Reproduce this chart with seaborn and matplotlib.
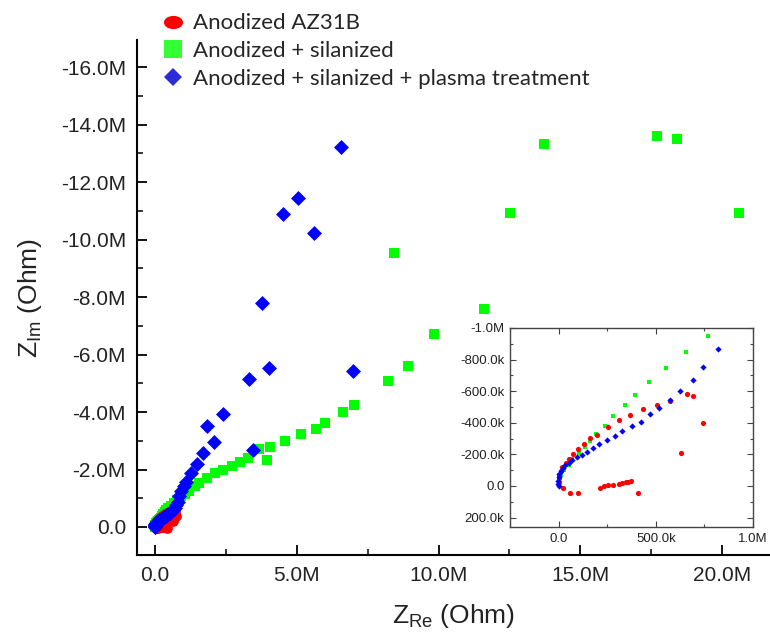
import numpy as np
import matplotlib
matplotlib.use("Agg")
import matplotlib.pyplot as plt
import seaborn as sns
from matplotlib.lines import Line2D
from matplotlib.markers import MarkerStyle
from matplotlib.transforms import Affine2D
from matplotlib.ticker import FuncFormatter, MultipleLocator


# ─────────────────────────────────────────────
# Data (Nyquist plot, Z_im stored with its sign: negative = capacitive)
# ─────────────────────────────────────────────

# Anodized AZ31B (all points < 1 MOhm, in kOhm)
red_re_k = [0, 1, 4, 10, 20, 36, 55, 76, 101, 131, 161, 196, 256, 309, 368,
            433, 504, 574, 660, 692, 744, 632,
            24, 57, 100, 211, 234, 256, 280, 311, 328, 345, 359, 371, 406]
red_im_k = [-26, -49, -72, -95, -118, -146, -173, -200, -234, -268, -302, -323,
            -376, -416, -449, -485, -511, -536, -580, -572, -397, -207,
            11, 42, 42, 11, -2, -6, -6, -11, -17, -23, -27, -32, 42]

# Anodized + silanized (low-frequency part in kOhm, rest in MOhm)
green_re_k = [1, 4, 14, 27, 52, 70, 105, 136, 160, 194, 237, 280, 339, 392,
              466, 555, 655, 766]
green_im_k = [-8, -38, -70, -101, -133, -169, -207, -249, -285, -329, -380,
              -441, -511, -578, -656, -747, -850, -951]
green_re_M = [0.9, 1.05, 1.2, 1.4, 1.56, 1.82, 2.12, 2.41, 2.70, 3.0, 3.29,
              3.68, 3.94, 4.06, 4.59, 5.14, 5.68, 6.0, 6.64, 7.03, 8.22, 8.92,
              9.84, 11.6, 8.43, 12.52, 13.72, 17.71, 18.41, 20.6]
green_im_M = [-1.07, -1.16, -1.25, -1.42, -1.52, -1.69, -1.87, -1.98, -2.12,
              -2.27, -2.39, -2.70, -2.33, -2.79, -2.99, -3.22, -3.40, -3.63,
              -4.01, -4.24, -5.08, -5.6, -6.71, -7.58, -9.53, -10.92, -13.32,
              -13.60, -13.50, -10.92]

# Anodized + silanized + plasma treatment
blue_re_k = [1, -1, -1, 0, 4, 10, 21, 34, 52, 71, 93, 119, 148, 177, 210, 249,
             289, 328, 375, 424, 471, 517, 574, 625, 689, 741, 821]
blue_im_k = [0, -13, -32, -55, -76, -97, -116, -133, -148, -165, -181, -198,
             -217, -240, -266, -293, -318, -350, -378, -405, -458, -492, -546,
             -601, -671, -755, -865]
blue_re_M = [0.86, 0.93, 1.01, 1.09, 1.26, 1.47, 1.70, 2.09, 1.82, 2.39, 3.45,
             3.32, 4.01, 7.0, 3.76, 5.61, 4.50, 5.06, 6.56]
blue_im_M = [-1.07, -1.25, -1.42, -1.58, -1.87, -2.19, -2.56, -2.96, -3.51,
             -3.93, -2.68, -5.15, -5.52, -5.44, -7.80, -10.22, -10.89, -11.43,
             -13.21]

labels = ["Anodized AZ31B",
          "Anodized + silanized",
          "Anodized + silanized + plasma treatment"]

red_re = np.array(red_re_k) * 1e3
red_im = np.array(red_im_k) * 1e3
green_re = np.concatenate([np.array(green_re_k) * 1e3, np.array(green_re_M) * 1e6])
green_im = np.concatenate([np.array(green_im_k) * 1e3, np.array(green_im_M) * 1e6])
blue_re = np.concatenate([np.array(blue_re_k) * 1e3, np.array(blue_re_M) * 1e6])
blue_im = np.concatenate([np.array(blue_im_k) * 1e3, np.array(blue_im_M) * 1e6])

RED, GREEN, BLUE = "#ff0000", "#00ff00", "#0000ff"


def fmt_main(v, _):
    if abs(v) < 1:
        return "0.0"
    return f"{v / 1e6:.1f}M"


def fmt_inset(v, _):
    if abs(v) < 1:
        return "0.0"
    if abs(v) >= 1e6 - 1:
        return f"{v / 1e6:.1f}M"
    return f"{v / 1e3:.1f}k"


sns.set_style("ticks")
plt.rcParams["font.family"] = ["Liberation Sans", "DejaVu Sans"]
plt.rcParams["mathtext.fontset"] = "custom"
plt.rcParams["mathtext.rm"] = "Liberation Sans"

fig = plt.figure(figsize=(7.7, 6.38), dpi=100)

# ─────────────────────────────────────────────
# Main axes
# ─────────────────────────────────────────────
ax = fig.add_axes([137 / 770, 1 - 555 / 638, 633 / 770, 515 / 638])
sns.scatterplot(x=red_re, y=red_im, ax=ax, color=RED, marker="o", s=60,
                linewidth=0, legend=False, zorder=3)
sns.scatterplot(x=green_re, y=green_im, ax=ax, color=GREEN, marker="s", s=62,
                linewidth=0, legend=False, zorder=2)
sns.scatterplot(x=blue_re, y=blue_im, ax=ax, color=BLUE, marker="D", s=58,
                linewidth=0, legend=False, zorder=4)

ax.set_xlim(-0.635e6, 21.69e6)
ax.set_ylim(0.974e6, -16.94e6)
ax.xaxis.set_major_locator(MultipleLocator(5e6))
ax.xaxis.set_minor_locator(MultipleLocator(2.5e6))
ax.yaxis.set_major_locator(MultipleLocator(2e6))
ax.yaxis.set_minor_locator(MultipleLocator(1e6))
ax.xaxis.set_major_formatter(FuncFormatter(fmt_main))
ax.yaxis.set_major_formatter(FuncFormatter(fmt_main))
ax.tick_params(which="major", direction="in", length=7, width=1.3,
               labelsize=15, color="black", labelcolor="#222222", pad=8)
ax.tick_params(which="minor", direction="in", length=4, width=1.3)
for side in ["top", "right"]:
    ax.spines[side].set_visible(False)
for side in ["left", "bottom"]:
    ax.spines[side].set_linewidth(1.5)
    ax.spines[side].set_color("black")

ax.set_xlabel(r"$\mathregular{Z_{Re}}$ (Ohm)", fontsize=19, labelpad=12,
              color="#222222")
ax.set_ylabel(r"$\mathregular{Z_{Im}}$ (Ohm)", fontsize=19, labelpad=12,
              color="#222222")

# ─────────────────────────────────────────────
# Inset (zoom on the first MOhm)
# ─────────────────────────────────────────────
axin = fig.add_axes([510 / 770, 1 - 527 / 638, 243 / 770, 199 / 638])
axin.set_facecolor("white")
sns.scatterplot(x=red_re, y=red_im, ax=axin, color=RED, marker="o", s=14,
                linewidth=0, legend=False, zorder=3)
sns.scatterplot(x=green_re, y=green_im, ax=axin, color=GREEN, marker="s", s=10,
                linewidth=0, legend=False, zorder=2)
sns.scatterplot(x=blue_re, y=blue_im, ax=axin, color=BLUE, marker="D", s=10,
                linewidth=0, legend=False, zorder=4)
axin.set_xlim(-250e3, 1.0e6)
axin.set_ylim(260e3, -1.0e6)
axin.xaxis.set_major_locator(MultipleLocator(500e3))
axin.xaxis.set_minor_locator(MultipleLocator(250e3))
axin.yaxis.set_major_locator(MultipleLocator(200e3))
axin.yaxis.set_minor_locator(MultipleLocator(100e3))
axin.xaxis.set_major_formatter(FuncFormatter(fmt_inset))
axin.yaxis.set_major_formatter(FuncFormatter(fmt_inset))
axin.tick_params(which="both", direction="in", top=True, right=True,
                 width=0.8, color="#444444")
axin.tick_params(which="major", length=4, labelsize=9.5, labelcolor="#222222",
                 pad=4)
axin.tick_params(which="minor", length=2)
for side in axin.spines.values():
    side.set_linewidth(1.0)
    side.set_color("#444444")
axin.set_xlabel("")
axin.set_ylabel("")

# ─────────────────────────────────────────────
# Legend
# ─────────────────────────────────────────────
ellipse = MarkerStyle("o", transform=Affine2D().scale(1.45, 1.0))
handles = [
    Line2D([], [], linestyle="none", marker=ellipse, markersize=9.5,
           markerfacecolor="#ff0000", markeredgewidth=0),
    Line2D([], [], linestyle="none", marker="s", markersize=13,
           markerfacecolor="#33ff33", markeredgewidth=0),
    Line2D([], [], linestyle="none", marker="D", markersize=9,
           markerfacecolor="#2b2bd8", markeredgewidth=0),
]
fig.legend(handles, labels, loc="upper left", bbox_to_anchor=(144 / 770, 1.0),
           frameon=False, handlelength=1.4, handletextpad=0.2,
           labelspacing=0.35, borderaxespad=0.2,
           prop={"family": ["Lato", "DejaVu Sans"], "size": 16})

fig.savefig("out.png", dpi=100, facecolor="white")
